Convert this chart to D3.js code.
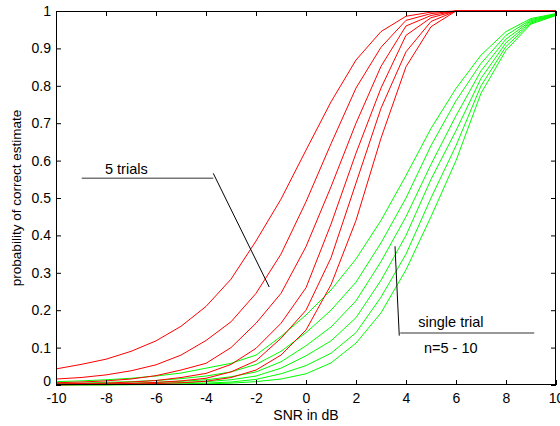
<!DOCTYPE html>
<html><head><meta charset="utf-8">
<script src="https://cdn.jsdelivr.net/npm/d3@7/dist/d3.min.js"></script>
<style>body{margin:0;background:#fff}svg{display:block}</style>
</head><body>
<svg id="c" width="560" height="426"></svg>
<script>
const snrDb = [-10,-9,-8,-7,-6,-5,-4,-3,-2,-1,0,1,2,3,4,5,6,7,8,9,10];
// five trials, n = 5..10 (red)
const fiveTrialsN5  = [0.043,0.055,0.069,0.09,0.118,0.157,0.21,0.283,0.385,0.497,0.628,0.757,0.869,0.945,0.986,0.997,1,1,1,1,1];
const fiveTrialsN6  = [0.016,0.02,0.027,0.038,0.054,0.08,0.119,0.169,0.245,0.35,0.49,0.645,0.794,0.903,0.975,0.993,1,1,1,1,1];
const fiveTrialsN7  = [0.006,0.008,0.011,0.016,0.025,0.04,0.058,0.1,0.165,0.245,0.37,0.53,0.7,0.852,0.96,0.988,1,1,1,1,1];
const fiveTrialsN8  = [0.003,0.004,0.005,0.008,0.012,0.02,0.031,0.055,0.098,0.165,0.26,0.43,0.62,0.794,0.935,0.982,1,1,1,1,1];
const fiveTrialsN9  = [0.001,0.002,0.003,0.004,0.007,0.011,0.018,0.035,0.065,0.125,0.2,0.34,0.54,0.74,0.891,0.972,1,1,1,1,1];
const fiveTrialsN10 = [0,0.001,0.001,0.002,0.004,0.006,0.01,0.02,0.04,0.08,0.147,0.268,0.44,0.66,0.851,0.958,1,1,1,1,1];
// single trial, n = 5..10 (green)
const singleTrialN5  = [0.009,0.011,0.014,0.018,0.024,0.032,0.045,0.058,0.08,0.13,0.187,0.254,0.337,0.44,0.56,0.686,0.793,0.882,0.945,0.98,0.993];
const singleTrialN6  = [0.004,0.005,0.007,0.009,0.012,0.017,0.024,0.035,0.055,0.09,0.14,0.2,0.275,0.38,0.5,0.64,0.76,0.86,0.935,0.977,0.992];
const singleTrialN7  = [0.002,0.003,0.004,0.005,0.007,0.01,0.014,0.022,0.035,0.062,0.105,0.155,0.225,0.33,0.45,0.59,0.72,0.84,0.925,0.974,0.991];
const singleTrialN8  = [0.001,0.001,0.002,0.003,0.004,0.006,0.009,0.014,0.024,0.045,0.078,0.118,0.18,0.28,0.4,0.55,0.68,0.82,0.915,0.971,0.99];
const singleTrialN9  = [0,0.001,0.001,0.001,0.002,0.003,0.005,0.008,0.015,0.03,0.052,0.085,0.14,0.235,0.35,0.5,0.64,0.8,0.905,0.968,0.989];
const singleTrialN10 = [0,0,0,0.001,0.001,0.002,0.003,0.005,0.009,0.016,0.03,0.059,0.112,0.193,0.308,0.45,0.6,0.78,0.895,0.965,0.988];

const xTicks = [-10,-8,-6,-4,-2,0,2,4,6,8,10];
const yTicks = [0,0.1,0.2,0.3,0.4,0.5,0.6,0.7,0.8,0.9,1];
const xTickLabels = ["-10","-8","-6","-4","-2","0","2","4","6","8","10"];
const yTickLabels = ["0","0.1","0.2","0.3","0.4","0.5","0.6","0.7","0.8","0.9","1"];
const xLabel = "SNR in dB";
const yLabel = "probability of correct estimate";

const redSeries = [fiveTrialsN5,fiveTrialsN6,fiveTrialsN7,fiveTrialsN8,fiveTrialsN9,fiveTrialsN10];
const greenSeries = [singleTrialN5,singleTrialN6,singleTrialN7,singleTrialN8,singleTrialN9,singleTrialN10];

const svg = d3.select("#c");
const font = "'Liberation Sans', Arial, Helvetica, sans-serif";
const L = 56, R = 556, T = 11, B = 385;
const x = d3.scaleLinear().domain([-10,10]).range([L,R]);
const y = d3.scaleLinear().domain([0,1]).range([B,T]);

const line = d3.line().x((d,i)=>x(snrDb[i])).y(d=>y(d));
const g = svg.append("g");
greenSeries.forEach(s=>g.append("path").attr("d",line(s)).attr("fill","none").attr("stroke","#00ff00").attr("stroke-width",1));
redSeries.forEach(s=>g.append("path").attr("d",line(s)).attr("fill","none").attr("stroke","#ff0000").attr("stroke-width",1));

// axes (MATLAB style inward ticks, box)
const ax = (sel)=>sel.selectAll("text").attr("font-family",font).attr("font-size",14).attr("fill","#000");
svg.append("g").attr("transform",`translate(0,${B})`)
  .call(d3.axisBottom(x).tickValues(xTicks).tickSizeInner(-5).tickSizeOuter(0).tickPadding(8)
    .tickFormat((d,i)=>xTickLabels[i]))
  .call(ax).call(s=>s.select(".domain").remove());
svg.append("g").attr("transform",`translate(0,${T})`)
  .call(d3.axisTop(x).tickValues(xTicks).tickSizeInner(-5).tickSizeOuter(0).tickFormat(""))
  .call(s=>s.select(".domain").remove());
svg.append("g").attr("transform",`translate(${L},0)`)
  .call(d3.axisLeft(y).tickValues(yTicks).tickSizeInner(-5).tickSizeOuter(0).tickPadding(5)
    .tickFormat((d,i)=>yTickLabels[i]))
  .call(ax).call(s=>s.select(".domain").remove())
  .call(s=>s.selectAll(".tick text").filter(d=>d===0).attr("dy","0.05em"));
svg.append("g").attr("transform",`translate(${R},0)`)
  .call(d3.axisRight(y).tickValues(yTicks).tickSizeInner(-5).tickSizeOuter(0).tickFormat(""))
  .call(s=>s.select(".domain").remove());
svg.append("rect").attr("x",L+0.5).attr("y",T+0.5).attr("width",R-L-1).attr("height",B-T-1)
  .attr("fill","none").attr("stroke","#000").attr("stroke-width",1);

svg.append("text").attr("x",(L+R)/2).attr("y",420).attr("text-anchor","middle")
  .attr("font-family",font).attr("font-size",14).text(xLabel);
svg.append("text").attr("transform",`translate(21,${(T+B)/2}) rotate(-90)`).attr("text-anchor","middle")
  .attr("font-family",font).attr("font-size",13.5).text(yLabel);

// annotations (data coordinates)
const ann = svg.append("g").attr("font-family",font).attr("font-size",14.5).attr("fill","#000");
ann.append("text").attr("x",x(-8.04)).attr("y",y(0.579)).attr("dy","0.35em").text("5 trials");
ann.append("path").attr("d",`M${x(-8.97)},${y(0.553)}H${x(-3.71)}`).attr("stroke","#333").attr("fill","none");
ann.append("path").attr("d",`M${x(-3.71)},${y(0.566)}L${x(-1.47)},${y(0.262)}`).attr("stroke","#000").attr("fill","none");
ann.append("text").attr("x",x(4.49)).attr("y",y(0.168)).attr("dy","0.35em").text("single trial");
ann.append("path").attr("d",`M${x(3.77)},${y(0.139)}H${x(9.13)}`).attr("stroke","#333").attr("fill","none");
ann.append("path").attr("d",`M${x(3.56)},${y(0.371)}L${x(3.73)},${y(0.132)}`).attr("stroke","#000").attr("fill","none");
ann.append("text").attr("x",x(4.72)).attr("y",y(0.099)).attr("dy","0.35em").text("n=5 - 10");
</script>
</body></html>
